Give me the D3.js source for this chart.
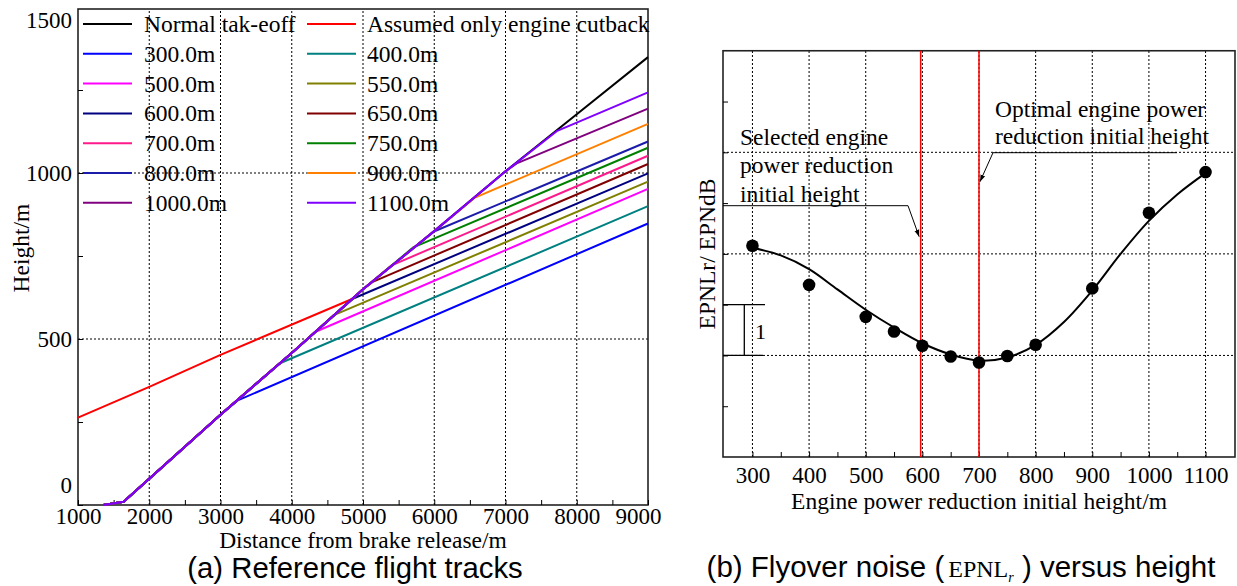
<!DOCTYPE html>
<html>
<head>
<meta charset="utf-8">
<script src="https://cdn.jsdelivr.net/npm/d3@7/dist/d3.min.js"></script>
<style>
body { margin: 0; background: #fff; }
svg text { font-family: "Liberation Serif", "Times New Roman", serif; }
.cap { font-family: "Liberation Sans", Arial, sans-serif !important; }
</style>
</head>
<body>
<svg id="chart" width="1237" height="586"></svg>
<script>
// ---- (a) reference flight tracks ----
var normalDist   = [1355, 1640, 3000, 4000, 5000, 6000, 7000, 8000, 9000]
var normalHeight = [0, 10, 272, 458, 650, 825, 1005, 1177, 1349]

var cutbackDist   = [1000, 2000, 3000, 4864]
var cutbackHeight = [263, 356, 452, 622]

var cutNames  = ['300.0m', '400.0m', '500.0m', '550.0m', '600.0m', '650.0m', '700.0m', '750.0m', '800.0m', '900.0m', '1000.0m', '1100.0m']
var cutDist   = [3250, 3835, 4326, 4583, 4864, 5145, 5402, 5706, 5987, 6572, 7157, 7718]
var cutHeight = [316, 427, 521, 571, 622, 673, 722, 776, 823, 926, 1029, 1126]
var endHeight = [848, 900, 952, 974, 999, 1027, 1052, 1076, 1095, 1148, 1194, 1243]
var cutColors = ['#0000ff', '#008080', '#ff00ff', '#808000', '#000080', '#800000', '#ff1a8c', '#008000', '#1c1caa', '#ff8000', '#800080', '#8000ff']

var xTicksA = [1000, 2000, 3000, 4000, 5000, 6000, 7000, 8000, 9000]
var yTicksA = [0, 500, 1000, 1500]

// ---- (b) flyover noise vs height ----
var cutHeights = [300, 400, 500, 550, 600, 650, 700, 750, 800, 900, 1000, 1100]
var epnl       = [4.16, 3.39, 2.76, 2.47, 2.19, 1.98, 1.86, 1.99, 2.21, 3.32, 4.81, 5.61]
var fitHeights = [300, 350, 400, 450, 500, 550, 600, 650, 700, 750, 800, 850, 900, 950, 1000, 1050, 1100]
var fitEpnl    = [4.12, 3.97, 3.70, 3.30, 2.90, 2.55, 2.24, 2.02, 1.90, 1.96, 2.21, 2.66, 3.28, 4.00, 4.65, 5.17, 5.59]
var selectedHeight = 597
var optimalHeight = 700
var xTicksB = [300, 400, 500, 600, 700, 800, 900, 1000, 1100]

var svg = d3.select('#chart')

// =================== chart (a) ===================
var xa = d3.scaleLinear().domain([1000, 9000]).range([78, 648])
var ya = d3.scaleLinear().domain([0, 1494]).range([505, 9])

var ga = svg.append('g')

// grid
ga.selectAll('.vg').data(xTicksA.slice(1, -1)).enter().append('line')
  .attr('x1', d => xa(d)).attr('x2', d => xa(d))
  .attr('y1', ya.range()[0]).attr('y2', ya.range()[1])
  .attr('stroke', '#000').attr('stroke-width', 1).attr('stroke-dasharray', '2,2')
ga.selectAll('.hg').data([500, 1000]).enter().append('line')
  .attr('x1', 78).attr('x2', 648)
  .attr('y1', d => ya(d)).attr('y2', d => ya(d))
  .attr('stroke', '#000').attr('stroke-width', 1).attr('stroke-dasharray', '2,2')

// frame
ga.append('rect').attr('x', 78).attr('y', 9).attr('width', 570).attr('height', 496)
  .attr('fill', 'none').attr('stroke', '#222').attr('stroke-width', 1.6)

// axes
var xAxisA = d3.axisBottom(xa).tickValues(d3.range(1000, 9001, 500))
  .tickSize(-5).tickPadding(3).tickFormat(d => d % 1000 === 0 ? d : '')
var gxa = ga.append('g').attr('transform', 'translate(0,505)').call(xAxisA)
gxa.select('.domain').remove()
gxa.selectAll('text').attr('font-size', 23).attr('fill', '#000')
  .attr('font-family', '"Liberation Serif", serif')
gxa.selectAll('.tick').filter(d => d === 9000).select('text').attr('x', -10)

var yAxisA = d3.axisLeft(ya).tickValues(d3.range(0, 1501, 250))
  .tickSize(-5).tickPadding(6).tickFormat(d => d % 500 === 0 ? d : '')
var gya = ga.append('g').attr('transform', 'translate(78,0)').call(yAxisA)
gya.select('.domain').remove()
gya.selectAll('text').attr('font-size', 23).attr('fill', '#000')
  .attr('font-family', '"Liberation Serif", serif')
gya.selectAll('.tick').filter(d => d === 1500).select('line').remove()
gya.selectAll('.tick').filter(d => d === 1500).select('text').attr('y', 13)
gya.selectAll('.tick').filter(d => d === 0).select('text').attr('y', -20)

// series
var lineA = d3.line().x(d => xa(d[0])).y(d => ya(d[1]))
var normalPts = normalDist.map((d, i) => [d, normalHeight[i]])
var series = [{ name: 'Normal tak-eoff', color: '#000', pts: normalPts },
  { name: 'Assumed only engine cutback', color: '#ff0000', pts: cutbackDist.map((d, i) => [d, cutbackHeight[i]]) }]
cutNames.forEach(function (n, i) {
  var pts = normalPts.filter(p => p[0] < cutDist[i])
  pts.push([cutDist[i], cutHeight[i]])
  pts.push([9000, endHeight[i]])
  series.push({ name: n, color: cutColors[i], pts: pts })
})

ga.selectAll('.trk').data(series).enter().append('path')
  .attr('d', d => lineA(d.pts))
  .attr('fill', 'none').attr('stroke', d => d.color).attr('stroke-width', 2)
  .attr('stroke-linejoin', 'round')

// legend
var leg = ga.selectAll('.leg').data(series).enter().append('g')
  .attr('transform', (d, i) => 'translate(' + (i % 2 === 0 ? 83 : 307) + ',' + (24 + Math.floor(i / 2) * 29.8) + ')')
leg.append('line').attr('x1', 0).attr('x2', 49).attr('y1', 0).attr('y2', 0)
  .attr('stroke', d => d.color).attr('stroke-width', 2)
leg.append('text').attr('x', (d, i) => i % 2 === 0 ? 61 : 60).attr('y', 8)
  .attr('font-size', 23.5).text(d => d.name)

// labels
ga.append('text').attr('x', 363).attr('y', 548).attr('text-anchor', 'middle')
  .attr('font-size', 23.5).text('Distance from brake release/m')
ga.append('text').attr('transform', 'translate(29,248) rotate(-90)').attr('text-anchor', 'middle')
  .attr('font-size', 23.5).text('Height/m')
ga.append('text').attr('class', 'cap').attr('x', 355).attr('y', 578).attr('text-anchor', 'middle')
  .attr('font-size', 29.3).text('(a) Reference flight tracks')

// =================== chart (b) ===================
var xb = d3.scaleLinear().domain([248, 1152]).range([723, 1235])
var yb = d3.scaleLinear().domain([0, 8]).range([457, 50.75])
var gb = svg.append('g')

gb.selectAll('.vg').data(xTicksB).enter().append('line')
  .attr('x1', d => xb(d)).attr('x2', d => xb(d))
  .attr('y1', yb.range()[0]).attr('y2', yb.range()[1])
  .attr('stroke', '#000').attr('stroke-width', 1).attr('stroke-dasharray', '2,2')
gb.selectAll('.hg').data([2, 4, 6]).enter().append('line')
  .attr('x1', 723).attr('x2', 1235)
  .attr('y1', d => yb(d)).attr('y2', d => yb(d))
  .attr('stroke', '#000').attr('stroke-width', 1).attr('stroke-dasharray', '2,2')

gb.append('rect').attr('x', 723).attr('y', 50.75).attr('width', 512).attr('height', 406.25)
  .attr('fill', 'none').attr('stroke', '#222').attr('stroke-width', 1.6)

var xAxisB = d3.axisBottom(xb).tickValues(d3.range(300, 1101, 50))
  .tickSize(-5).tickPadding(10).tickFormat(d => d % 100 === 0 ? d : '')
var gxb = gb.append('g').attr('transform', 'translate(0,457)').call(xAxisB)
gxb.select('.domain').remove()
gxb.selectAll('text').attr('font-size', 23).attr('fill', '#000')
  .attr('font-family', '"Liberation Serif", serif')

var yAxisB = d3.axisLeft(yb).tickValues(d3.range(1, 8)).tickSize(-5).tickFormat('')
var gyb = gb.append('g').attr('transform', 'translate(723,0)').call(yAxisB)
gyb.select('.domain').remove()

// red reference lines
gb.selectAll('.ref').data([selectedHeight, optimalHeight]).enter().append('line')
  .attr('x1', d => xb(d)).attr('x2', d => xb(d))
  .attr('y1', yb.range()[0]).attr('y2', yb.range()[1])
  .attr('stroke', '#ff0000').attr('stroke-width', 1.5)

// fitted curve and points
var lineB = d3.line().x(d => xb(d[0])).y(d => yb(d[1])).curve(d3.curveCatmullRom)
gb.append('path').attr('d', lineB(fitHeights.map((h, i) => [h, fitEpnl[i]])))
  .attr('fill', 'none').attr('stroke', '#000').attr('stroke-width', 2)
gb.selectAll('.pt').data(cutHeights).enter().append('circle')
  .attr('cx', d => xb(d)).attr('cy', (d, i) => yb(epnl[i])).attr('r', 6.3).attr('fill', '#000')

// 1 EPNdB scale bar
gb.append('path').attr('d', 'M723,' + yb(3) + 'H765M744.3,' + yb(3) + 'V' + yb(2) + 'M723,' + yb(2) + 'H763')
  .attr('fill', 'none').attr('stroke', '#000').attr('stroke-width', 1.3)
gb.append('text').attr('x', 755).attr('y', 339).attr('font-size', 22).text('1')

// annotations
svg.append('defs').append('marker').attr('id', 'arr').attr('viewBox', '0 0 10 10')
  .attr('refX', 10).attr('refY', 5).attr('markerWidth', 7).attr('markerHeight', 7)
  .attr('orient', 'auto').append('path').attr('d', 'M0,1.5L10,5L0,8.5Z').attr('fill', '#000')

gb.append('path').attr('d', 'M723,205.7H908L' + (xb(selectedHeight) - 1.5) + ',236.7')
  .attr('fill', 'none').attr('stroke', '#000').attr('stroke-width', 1).attr('marker-end', 'url(#arr)')
var t1 = gb.append('text').attr('x', 740).attr('font-size', 23.5)
;['Selected engine', 'power reduction', 'initial height'].forEach(function (s, i) {
  t1.append('tspan').attr('x', 740).attr('y', 145 + i * 28.4).text(s)
})

gb.append('path').attr('d', 'M1177,152.7H993L' + (xb(optimalHeight) + 1) + ',181.7')
  .attr('fill', 'none').attr('stroke', '#000').attr('stroke-width', 1).attr('marker-end', 'url(#arr)')
var t2 = gb.append('text').attr('x', 995).attr('font-size', 23.5)
;['Optimal engine power', 'reduction initial height'].forEach(function (s, i) {
  t2.append('tspan').attr('x', 995).attr('y', 117 + i * 27).text(s)
})

// labels
gb.append('text').attr('x', 979).attr('y', 509).attr('text-anchor', 'middle')
  .attr('font-size', 23.5).text('Engine power reduction initial height/m')
gb.append('text').attr('transform', 'translate(715,254) rotate(-90)').attr('text-anchor', 'middle')
  .attr('font-size', 23.5).text('EPNLr/ EPNdB')

var cb = gb.append('text').attr('class', 'cap').attr('x', 961).attr('y', 577)
  .attr('text-anchor', 'middle').attr('font-size', 29.5)
cb.append('tspan').text('(b) Flyover noise (')
cb.append('tspan').attr('font-family', '"Liberation Serif", serif').attr('font-size', 24).attr('dx', 4).text('EPNL')
cb.append('tspan').attr('font-family', '"Liberation Serif", serif').attr('font-style', 'italic')
  .attr('font-size', 14).attr('dy', 5).text('r')
cb.append('tspan').attr('dy', -5).text(' ) versus height')
</script>
</body>
</html>
